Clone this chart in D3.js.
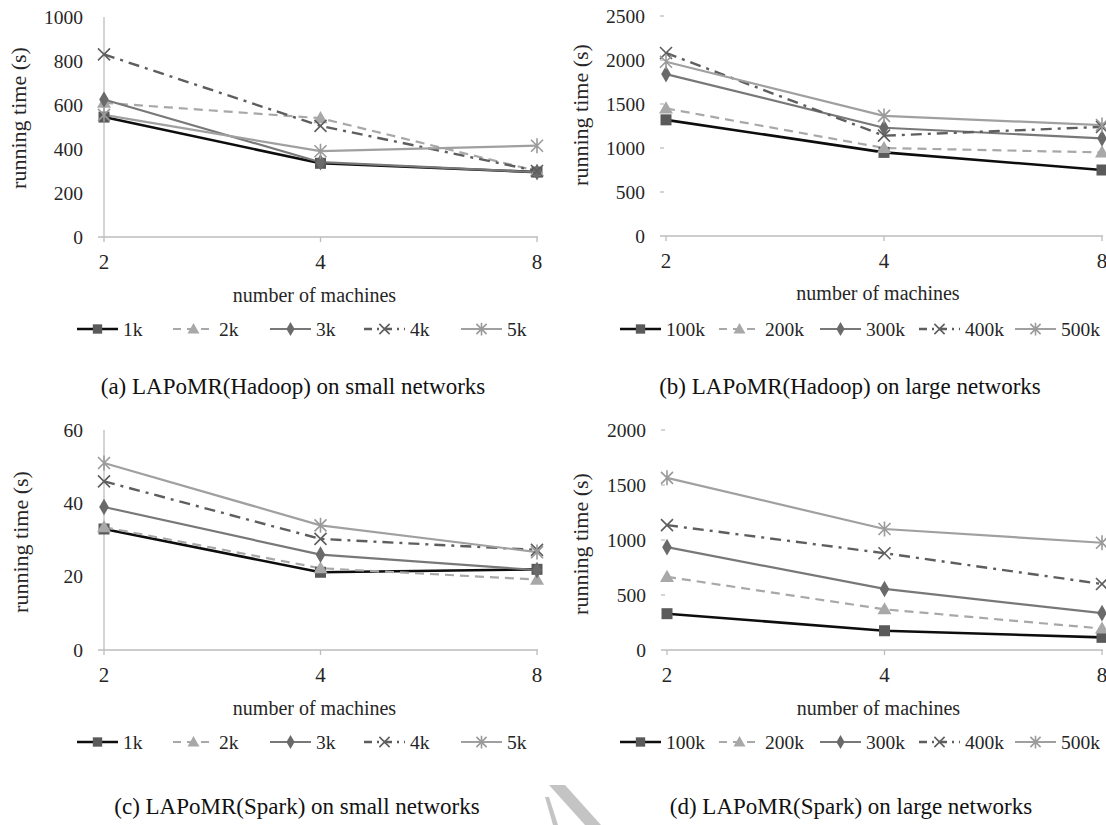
<!DOCTYPE html>
<html><head><meta charset="utf-8">
<script src="https://cdn.jsdelivr.net/npm/d3@7"></script>
<style>
body{margin:0;background:#fff}
svg{display:block}
</style>
</head><body>
<svg id="chart" width="1106" height="825"></svg>
<script>
// ---------- data ----------
const machines = ["2", "4", "8"];
const smallNetworks = ["1k", "2k", "3k", "4k", "5k"];
const largeNetworks = ["100k", "200k", "300k", "400k", "500k"];

// running time (s), one row per network size, columns = 2,4,8 machines
const hadoopSmall = [[545, 335, 295], [610, 540, 300], [625, 340, 295], [830, 505, 300], [555, 390, 415]];
const hadoopLarge = [[1320, 950, 750], [1450, 1000, 950], [1840, 1230, 1110], [2080, 1140, 1240], [1980, 1365, 1260]];
const sparkSmall = [[33, 21.2, 22], [33.5, 22.3, 19.2], [39, 26, 21.8], [46, 30.3, 27.3], [51, 34, 26.7]];
const sparkLarge = [[330, 175, 115], [665, 370, 195], [935, 555, 335], [1135, 880, 600], [1565, 1100, 975]];

const ticksHadoopSmall = [0, 200, 400, 600, 800, 1000];
const ticksHadoopLarge = [0, 500, 1000, 1500, 2000, 2500];
const ticksSparkSmall = [0, 20, 40, 60];
const ticksSparkLarge = [0, 500, 1000, 1500, 2000];

const captions = [
  "(a) LAPoMR(Hadoop) on small networks",
  "(b) LAPoMR(Hadoop) on large networks",
  "(c) LAPoMR(Spark) on small networks",
  "(d) LAPoMR(Spark) on large networks"
];
const xTitle = "number of machines";
const yTitle = "running time (s)";

// ---------- styles ----------
const FONT = "'Liberation Serif', serif";
const seriesStyle = [
  {stroke: "#0d0d0d", width: 2.6, dash: null, marker: "square", mcolor: "#5a5a5a"},
  {stroke: "#a8a8a8", width: 2.2, dash: "9,6", marker: "triangle", mcolor: "#a8a8a8"},
  {stroke: "#787878", width: 2.2, dash: null, marker: "diamond", mcolor: "#6a6a6a"},
  {stroke: "#5e5e5e", width: 2.4, dash: "11,6,3,6", marker: "cross", mcolor: "#5e5e5e"},
  {stroke: "#a0a0a0", width: 2.2, dash: null, marker: "star", mcolor: "#9a9a9a"}
];

const legendSmallX = [77, 173, 270, 364, 461];
const legendLargeX = [620, 719, 820, 919, 1015];
const panels = [
  {data: hadoopSmall, names: smallNetworks, ticks: ticksHadoopSmall, x0: 104, x1: 537, yTop: 17, yBot: 237, vaxis: true,
   legendX: legendSmallX, legendY: 329, textOff: 46, xTitleY: 295, capX: 293, capY: 386, yTitleX: 18, yTitleY: 118},
  {data: hadoopLarge, names: largeNetworks, ticks: ticksHadoopLarge, x0: 666, x1: 1102, yTop: 16, yBot: 236, vaxis: false,
   legendX: legendLargeX, legendY: 329, textOff: 46, xTitleY: 293, capX: 850, capY: 386, yTitleX: 580, yTitleY: 115},
  {data: sparkSmall, names: smallNetworks, ticks: ticksSparkSmall, x0: 104, x1: 537, yTop: 430, yBot: 650, vaxis: true,
   legendX: legendSmallX, legendY: 742, textOff: 46, xTitleY: 708, capX: 297, capY: 806, yTitleX: 20, yTitleY: 542},
  {data: sparkLarge, names: largeNetworks, ticks: ticksSparkLarge, x0: 667, x1: 1102, yTop: 430, yBot: 650, vaxis: false,
   legendX: legendLargeX, legendY: 742, textOff: 46, xTitleY: 708, capX: 851, capY: 806, yTitleX: 580, yTitleY: 544}
];

const svg = d3.select("#chart");
const axisColor = "#bdbdbd";
const textColor = "#262626";

function label(g, x, y, str, size, anchor) {
  return g.append("text").attr("x", x).attr("y", y).attr("dy", "0.35em")
    .attr("text-anchor", anchor || "middle").style("font-family", FONT)
    .attr("font-size", size).attr("fill", textColor).text(str);
}

function drawMarker(g, type, color, x, y, s) {
  s = s || 1;
  if (type === "square") {
    g.append("rect").attr("x", x - 5.5 * s).attr("y", y - 5.5 * s).attr("width", 11 * s).attr("height", 11 * s).attr("fill", color);
  } else if (type === "triangle") {
    g.append("path").attr("d", d3.symbol(d3.symbolTriangle, 85 * s * s)()).attr("transform", `translate(${x},${y + 1})`).attr("fill", color);
  } else if (type === "diamond") {
    g.append("path").attr("d", d3.symbol(d3.symbolDiamond, 80 * s * s)()).attr("transform", `translate(${x},${y})`).attr("fill", color);
  } else if (type === "cross") {
    const r = 6 * s;
    g.append("path").attr("d", `M${x - r},${y - r}L${x + r},${y + r}M${x - r},${y + r}L${x + r},${y - r}`)
      .attr("stroke", color).attr("stroke-width", 1.6).attr("fill", "none");
  } else if (type === "star") {
    const r = 6 * s;
    g.append("path").attr("d", `M${x - r},${y - r}L${x + r},${y + r}M${x - r},${y + r}L${x + r},${y - r}M${x},${y - r * 1.25}L${x},${y + r * 1.25}`)
      .attr("stroke", color).attr("stroke-width", 1.6).attr("fill", "none");
  }
}

panels.forEach((p, pi) => {
  const g = svg.append("g");
  const x = d3.scalePoint().domain(machines).range([p.x0, p.x1]);
  const y = d3.scaleLinear().domain([0, p.ticks[p.ticks.length - 1]]).range([p.yBot, p.yTop]);

  // x axis baseline with category ticks
  g.append("line").attr("x1", p.x0 - 6).attr("x2", p.x1 + 1).attr("y1", y(0)).attr("y2", y(0))
    .attr("stroke", axisColor).attr("stroke-width", 1.3);
  machines.forEach(m => {
    g.append("line").attr("x1", x(m)).attr("x2", x(m)).attr("y1", y(0)).attr("y2", y(0) + 5)
      .attr("stroke", axisColor).attr("stroke-width", 1.3);
    label(g, x(m), y(0) + 25, m, 21);
  });
  // y axis
  if (p.vaxis) {
    g.append("line").attr("x1", p.x0).attr("x2", p.x0).attr("y1", y(0)).attr("y2", p.yTop)
      .attr("stroke", axisColor).attr("stroke-width", 1.3);
  }
  p.ticks.forEach(t => {
    if (!p.vaxis && t > 0) {
      g.append("line").attr("x1", p.x0 - 6).attr("x2", p.x0 - 2).attr("y1", y(t)).attr("y2", y(t))
        .attr("stroke", axisColor).attr("stroke-width", 1.3);
    }
    label(g, p.x0 - 21, y(t), t, 19.5, "end");
  });
  // axis titles
  label(g, (p.x0 + p.x1) / 2 - 6, p.xTitleY, xTitle, 20);
  g.append("text").attr("transform", `translate(${p.yTitleX},${p.yTitleY}) rotate(-90)`).attr("dy", "0.35em")
    .attr("text-anchor", "middle").style("font-family", FONT).attr("font-size", 22).attr("fill", textColor).text(yTitle);

  // series lines
  const line = d3.line().x((d, i) => x(machines[i])).y(d => y(d));
  p.data.forEach((vals, si) => {
    const st = seriesStyle[si];
    g.append("path").attr("d", line(vals)).attr("fill", "none").attr("stroke", st.stroke)
      .attr("stroke-width", st.width).attr("stroke-dasharray", st.dash).attr("stroke-linejoin", "round");
  });
  // markers
  p.data.forEach((vals, si) => {
    const st = seriesStyle[si];
    vals.forEach((v, i) => drawMarker(g, st.marker, st.mcolor, x(machines[i]), y(v)));
  });

  // legend
  p.names.forEach((n, si) => {
    const st = seriesStyle[si];
    const lx = p.legendX[si], ly = p.legendY;
    g.append("line").attr("x1", lx).attr("x2", lx + 41).attr("y1", ly).attr("y2", ly)
      .attr("stroke", st.stroke).attr("stroke-width", st.width)
      .attr("stroke-dasharray", st.dash ? (si === 1 ? "8,6" : "8,5,2,5") : null);
    drawMarker(g, st.marker, st.mcolor, lx + 20.5, ly, 0.85);
    label(g, lx + p.textOff, ly, n, 19.5, "start");
  });

  // caption
  label(g, p.capX, p.capY, captions[pi], 23).attr("fill", "#111");
});

// light grey watermark fragment at the bottom
svg.append("path").attr("d", "M549,785 L565,785 L601,825 L585,825 Z").attr("fill", "#c4c4c4");
svg.append("path").attr("d", "M545,797 L549,797 L558,825 L553,825 Z").attr("fill", "#c4c4c4");
</script>
</body></html>
